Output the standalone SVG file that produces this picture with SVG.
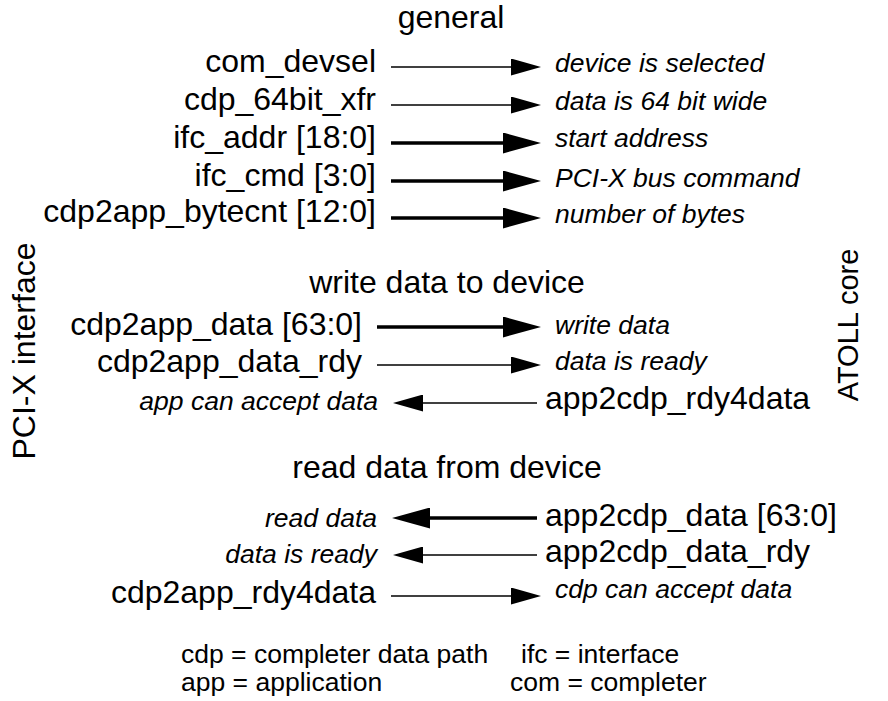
<svg xmlns="http://www.w3.org/2000/svg" width="888" height="701" viewBox="0 0 888 701">
<style>
text{font-family:"Liberation Sans",Arial,sans-serif;fill:#000}
.m{font-size:32px}
.i{font-size:26.5px;font-style:italic}
.f{font-size:26.5px}
.e{text-anchor:end}
.c{text-anchor:middle}
.thin{stroke:#000;stroke-width:1.6;fill:none;marker-end:url(#hs)}
.thick{stroke:#000;stroke-width:3.4;fill:none;marker-end:url(#hb)}
</style>
<defs>
<marker id="hs" markerUnits="userSpaceOnUse" markerWidth="30" markerHeight="17" refX="20" refY="8.5" orient="auto"><path d="M0,0 L30,8.5 L0,17 Z" fill="#000"/></marker>
<marker id="hb" markerUnits="userSpaceOnUse" markerWidth="38" markerHeight="21" refX="28" refY="10.5" orient="auto"><path d="M0,0 L38,10.5 L0,21 Z" fill="#000"/></marker>
</defs>
<rect width="888" height="701" fill="#fff"/>
<g id="sides">
<text class="m c" transform="translate(35,351) rotate(-90)">PCI-X interface</text>
<text class="c" style="font-size:29px" transform="translate(858,325) rotate(-90)">ATOLL core</text>
</g>
<g id="general">
<text class="m c" x="451" y="28">general</text>
<text class="m e" x="376" y="72">com_devsel</text>
<text class="m e" x="376" y="110">cdp_64bit_xfr</text>
<text class="m e" x="376" y="148">ifc_addr [18:0]</text>
<text class="m e" x="376" y="186">ifc_cmd [3:0]</text>
<text class="m e" x="376" y="222">cdp2app_bytecnt [12:0]</text>
<text class="i" x="555" y="72">device is selected</text>
<text class="i" x="555" y="110">data is 64 bit wide</text>
<text class="i" x="555" y="147">start address</text>
<text class="i" x="555" y="187">PCI-X bus command</text>
<text class="i" x="555" y="223">number of bytes</text>
</g>
<g id="write">
<text class="m c" x="447" y="293">write data to device</text>
<text class="m e" x="362" y="335">cdp2app_data [63:0]</text>
<text class="m e" x="362" y="372">cdp2app_data_rdy</text>
<text class="m" x="545" y="409">app2cdp_rdy4data</text>
<text class="i" x="555" y="334">write data</text>
<text class="i" x="555" y="370">data is ready</text>
<text class="i e" x="378" y="410">app can accept data</text>
</g>
<g id="read">
<text class="m c" x="447" y="478">read data from device</text>
<text class="m" x="545" y="526">app2cdp_data [63:0]</text>
<text class="m" x="545" y="562">app2cdp_data_rdy</text>
<text class="m e" x="376" y="603">cdp2app_rdy4data</text>
<text class="i e" x="377" y="527">read data</text>
<text class="i e" x="377" y="563">data is ready</text>
<text class="i" x="555" y="598">cdp can accept data</text>
</g>
<g id="legend">
<text class="f" x="181" y="663">cdp = completer data path</text>
<text class="f" x="181" y="691">app = application</text>
<text class="f" x="521" y="663">ifc = interface</text>
<text class="f" x="510" y="691">com = completer</text>
</g>
<g id="connectors">
<line class="thin" x1="391" y1="67" x2="531" y2="67"/>
<line class="thin" x1="391" y1="105" x2="531" y2="105"/>
<line class="thick" x1="391" y1="143" x2="531" y2="143"/>
<line class="thick" x1="391" y1="181" x2="531" y2="181"/>
<line class="thick" x1="391" y1="218" x2="531" y2="218"/>
<line class="thick" x1="377" y1="327" x2="531" y2="327"/>
<line class="thin" x1="377" y1="365" x2="531" y2="365"/>
<line class="thin" x1="537" y1="403" x2="403" y2="403"/>
<line class="thick" x1="537" y1="518" x2="402" y2="518"/>
<line class="thin" x1="537" y1="555" x2="403" y2="555"/>
<line class="thin" x1="391" y1="596" x2="531" y2="596"/>
</g>
</svg>
